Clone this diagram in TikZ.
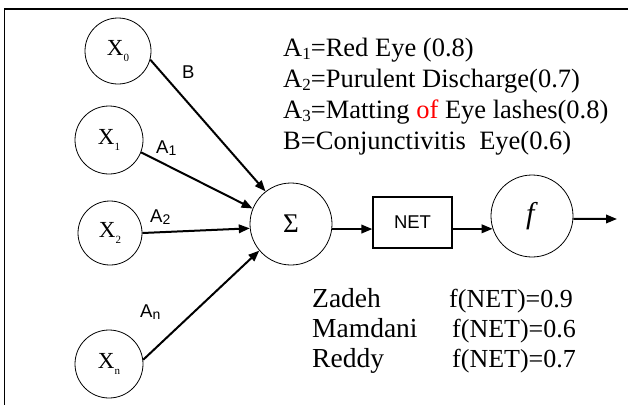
\documentclass[tikz,border=0pt]{standalone}
\usepackage{fontspec}
\setmainfont{Liberation Serif}
\newfontfamily\arialf{Liberation Sans}
\usetikzlibrary{arrows.meta}

% lowered, reduced-size index digit: #1 = size in pt, #2 = text
\newcommand{\dropsub}[2]{\raisebox{-0.15em}{\fontsize{#1}{#1}\selectfont #2}}
% input label X with a tiny index
\newcommand{\xin}[1]{X\raisebox{-0.3em}{\fontsize{11}{11}\selectfont #1}}

\tikzset{
  unitnode/.style={circle, draw, line width=0.8pt, inner sep=0pt},
  wire/.style={line width=2pt, -{Triangle[length=11pt,width=8.5pt]}},
  serifline/.style={anchor=base west, inner sep=0pt, font=\fontsize{26.5}{26.5}\selectfont},
  edgelabel/.style={anchor=base west, inner sep=0pt, font=\arialf\fontsize{18.5}{18.5}\selectfont},
  xlabel/.style={font=\fontsize{23}{23}\selectfont},
}

\begin{document}
\begin{tikzpicture}[x=1pt, y=-1pt]
  \useasboundingbox (0,0) rectangle (628,405);

  % frame edges
  \draw[line width=1.5pt] (4,9) -- (628,9);
  \draw[line width=1pt] (4,9) -- (4,405);

  % input units
  \node[unitnode, xlabel, minimum size=66pt] (x0) at (118,51) {\xin{0}};
  \node[unitnode, xlabel, minimum size=68pt] (x1) at (109,140) {\xin{1}};
  \node[unitnode, xlabel, minimum size=64pt] (x2) at (110,233) {\xin{2}};
  \node[unitnode, xlabel, minimum size=68pt] (xn) at (109,364) {\xin{n}};

  % summation, NET box, activation
  \node[unitnode, minimum size=82pt, font=\fontsize{27}{27}\selectfont] (sig) at (291,224) {Σ};
  \node[draw, line width=1.2pt, minimum width=79pt, minimum height=51pt, inner sep=0pt,
        font=\arialf\fontsize{18.5}{18.5}\selectfont] (net) at (412.5,222.5) {NET};
  \node[unitnode, minimum size=82pt, font=\fontsize{30}{30}\selectfont] (f) at (532,216) {\textit{f}};
  \coordinate (out) at (617,219);

  % weighted inputs
  \draw[wire] (x0.-15) -- (sig.128);
  \draw[wire] (x1.-21) -- (sig.158);
  \draw[wire] (x2.east) -- (sig.186);
  \draw[wire] (xn.7) -- (sig.220);

  % forward path
  \draw[wire] (sig.-7) -- (sig.-7 -| net.west);
  \draw[wire] (net.east |- f.198) -- (f.198);
  \draw[wire] (f.-4) -- (out);

  % weight labels
  \node[edgelabel] (lb) at (182,78) {B};
  \node[edgelabel] (la1) at (156,153) {A\dropsub{14}{1}};
  \node[edgelabel] (la2) at (150,222) {A\dropsub{14}{2}};
  \node[edgelabel] (lan) at (140,317) {A\dropsub{14}{n}};

  % legend of inputs
  \node[serifline] (t1) at (283,56) {A\dropsub{17}{1}=Red Eye (0.8)};
  \node[serifline] (t2) at (283,87) {A\dropsub{17}{2}=Purulent Discharge(0.7)};
  \node[serifline] (t3) at (283,118) {A\dropsub{17}{3}=Matting \textcolor{red}{of} Eye lashes(0.8)};
  \node[serifline] (t4) at (283,149) {B=Conjunctivitis\ \ Eye(0.6)};

  % results per method
  \node[serifline, font=\fontsize{27.5}{27.5}\selectfont] (m1) at (312,307) {Zadeh};
  \node[serifline, font=\fontsize{27.5}{27.5}\selectfont] (m2) at (312,337) {Mamdani};
  \node[serifline, font=\fontsize{27.5}{27.5}\selectfont] (m3) at (312,367) {Reddy};
  \node[serifline, font=\fontsize{26}{26}\selectfont] (r1) at (449,307) {f(NET)=0.9};
  \node[serifline, font=\fontsize{26}{26}\selectfont] (r2) at (452,337) {f(NET)=0.6};
  \node[serifline, font=\fontsize{26}{26}\selectfont] (r3) at (452,367) {f(NET)=0.7};
\end{tikzpicture}
\end{document}
